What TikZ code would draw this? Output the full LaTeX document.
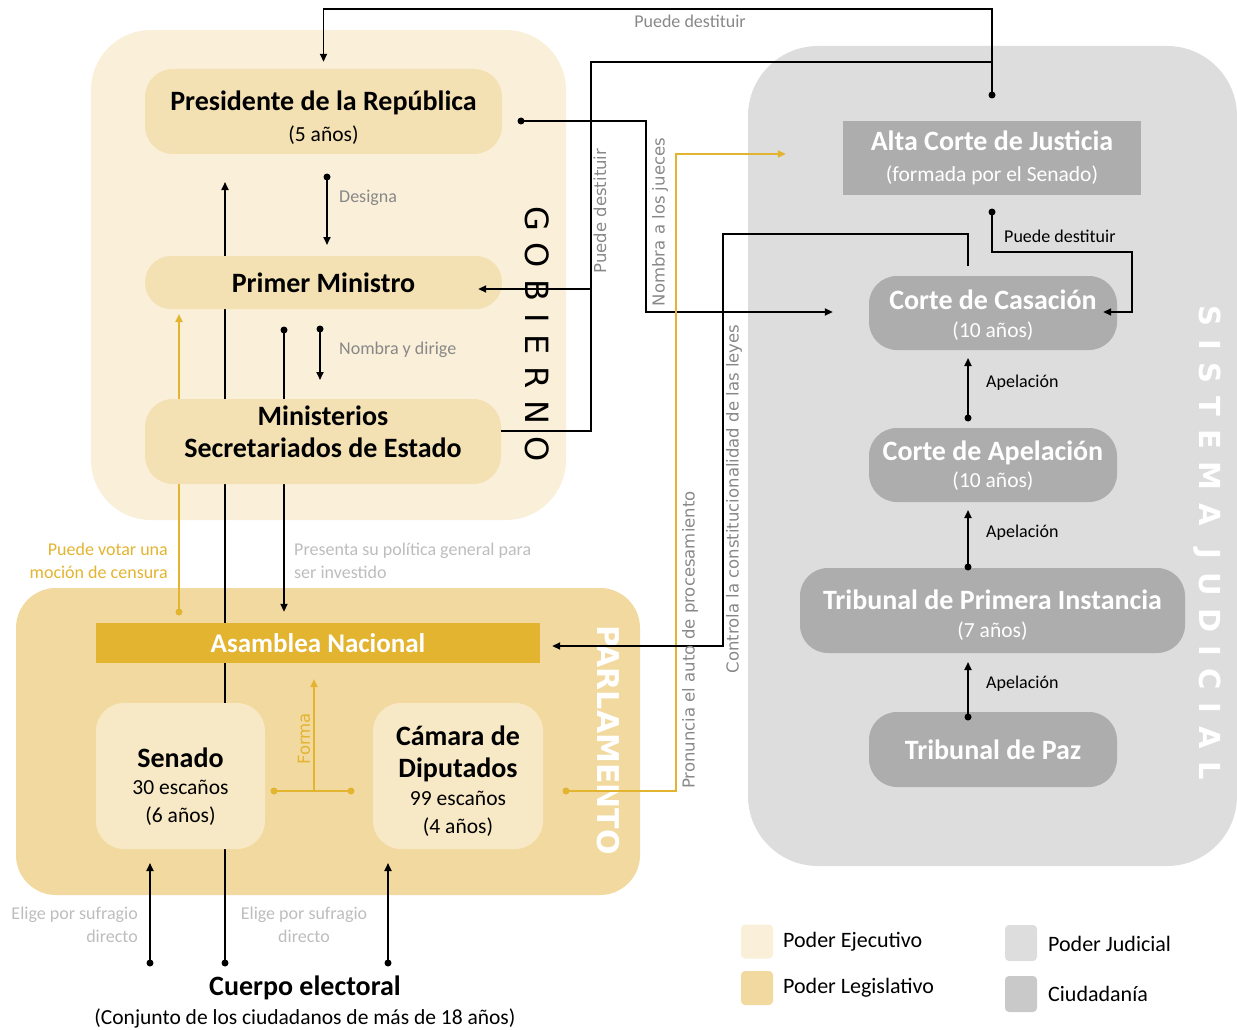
\documentclass[tikz,border=0pt]{standalone}
\usepackage{fontspec}
\setmainfont{Carlito}
\newfontfamily\dvf{DejaVu Sans}
\newfontfamily\dvsp{DejaVu Sans}[LetterSpace=37]
\newfontfamily\dvspb{DejaVu Sans}[LetterSpace=44]
\usetikzlibrary{arrows.meta,calc}
\definecolor{gobbg}{HTML}{FAEFD9}
\definecolor{gobin}{HTML}{F4E1B3}
\definecolor{parlbg}{HTML}{F2D9A0}
\definecolor{parlin}{HTML}{F7E8C6}
\definecolor{asamc}{HTML}{E3B430}
\definecolor{yel}{HTML}{E3B430}
\definecolor{judbg}{HTML}{DDDDDD}
\definecolor{judin}{HTML}{ADADAD}
\definecolor{ciud}{HTML}{C9C9C9}
\definecolor{labgrey}{HTML}{888888}
\definecolor{lightgrey}{HTML}{BDBDBD}
\pgfdeclarelayer{back}
\pgfdeclarelayer{mid}
\pgfsetlayers{back,mid,main}
\newcommand\ttl[1]{{\bfseries\fontsize{28}{32}\selectfont #1}}
\newcommand\subt[1]{{\fontsize{21.5}{26}\selectfont #1}}
\newcommand\mydot[2][black]{\fill[#1] (#2) circle[radius=3.5pt];}
\begin{document}
\begin{tikzpicture}[x=1pt,y=-1pt,
  >={Triangle[length=8pt,width=7pt]},
  ln/.style={line width=1.8pt, draw=black},
  yl/.style={line width=2.6pt, draw=yel},
  gin/.style={fill=gobin, rounded corners=28pt, inner sep=0pt, align=center, font={\fontsize{21}{31}\selectfont}},
  pin/.style={fill=parlin, rounded corners=28pt, inner sep=0pt},
  jin/.style={fill=judin, rounded corners=28pt, inner sep=0pt, align=center, text=white, font={\fontsize{21}{31}\selectfont}},
  ttx/.style={inner sep=0pt, align=center},
  lab/.style={font={\fontsize{18}{23}\selectfont}, inner sep=0pt},
  rlab/.style={font={\dvf\fontsize{16.5}{18}\selectfont}, text=labgrey, rotate=90, inner sep=0pt},
  legsq/.style={rounded corners=4pt, inner sep=0pt, minimum width=32pt, minimum height=34pt},
  legtx/.style={font={\fontsize{22}{26}\selectfont}, inner sep=0pt, anchor=west},
]
\useasboundingbox (0,0) rectangle (1237,1030);

% containers
\begin{pgfonlayer}{back}
\node[fill=gobbg, rounded corners=60pt, minimum width=475pt, minimum height=490pt, inner sep=0pt] (gob) at (328.5,275) {};
\node[fill=parlbg, rounded corners=40pt, minimum width=624pt, minimum height=307pt, inner sep=0pt] (parl) at (328,741.5) {};
\node[fill=judbg, rounded corners=70pt, minimum width=489pt, minimum height=820pt, inner sep=0pt] (jud) at (992.5,456) {};
\end{pgfonlayer}

\node[font={\dvsp\fontsize{32}{32}\selectfont}, rotate=-90, inner sep=0pt] (gobt) at (537,334) {GOBIERNO};
\node[font={\dvf\bfseries\fontsize{30}{30}\selectfont}, text=white, rotate=-90, inner sep=0pt] (parlt) at (608,740) {PARLAMENTO};
\node[font={\dvspb\bfseries\fontsize{29}{29}\selectfont}, text=white, rotate=-90, inner sep=0pt] (judt) at (1207,543) {SISTEMA JUDICIAL};

% government nodes
\node[gin, minimum width=357pt, minimum height=85pt] (pres) at (323.5,111.5) {};
\node[ttx, font={\fontsize{21}{31}\selectfont}] (presT) at (323.5,117.5) {\ttl{Presidente de la República}\\\subt{(5 años)}};
\node[gin, rounded corners=26pt, minimum width=357pt, minimum height=53pt] (pm) at (323.5,282.5) {\ttl{Primer Ministro}};
\node[gin, minimum width=356pt, minimum height=85pt] (mini) at (323,441.5) {};
\node[ttx, font={\fontsize{21}{31}\selectfont}] (miniT) at (323,432) {\ttl{Ministerios}\\[1pt]\ttl{Secretariados de Estado}};

% parliament nodes
\node[fill=asamc, text=white, inner sep=0pt, minimum width=444pt, minimum height=40pt, font={\bfseries\fontsize{27}{32}\selectfont}] (asam) at (318,643) {Asamblea Nacional};
\node[pin, minimum width=169pt, minimum height=146pt] (sen) at (180.5,776) {};
\node[ttx, font={\fontsize{21}{28}\selectfont}] (senT) at (180.5,786.5) {\ttl{Senado}\\[-1pt]\subt{30 escaños}\\\subt{(6 años)}};
\node[pin, minimum width=170pt, minimum height=146pt] (cam) at (458,776) {};
\node[ttx, font={\fontsize{21}{28}\selectfont}] (camT) at (458,781.5) {\ttl{Cámara de}\\[4pt]\ttl{Diputados}\\\subt{99 escaños}\\\subt{(4 años)}};

% judicial nodes
\node[jin, rounded corners=0pt, minimum width=298pt, minimum height=74pt] (alta) at (992,158) {\ttl{Alta Corte de Justicia}\\\subt{(formada por el Senado)}};
\node[jin, minimum width=248pt, minimum height=74pt] (casa) at (993,313) {};
\node[ttx, text=white, font={\fontsize{21}{28}\selectfont}] (casaT) at (993,315) {\ttl{Corte de Casación}\\\subt{(10 años)}};
\node[jin, minimum width=248pt, minimum height=74pt] (apel) at (993,465) {};
\node[ttx, text=white, font={\fontsize{21}{27}\selectfont}] (apelT) at (993,465.5) {\ttl{Corte de Apelación}\\\subt{(10 años)}};
\node[jin, minimum width=385pt, minimum height=85pt] (prim) at (992.5,610.5) {};
\node[ttx, text=white, font={\fontsize{21}{28}\selectfont}] (primT) at (992.5,615) {\ttl{Tribunal de Primera Instancia}\\\subt{(7 años)}};
\node[jin, minimum width=248pt, minimum height=75pt] (paz) at (993,749.5) {\ttl{Tribunal de Paz}};

% electorate
\node[inner sep=0pt, align=center, font={\fontsize{21}{29}\selectfont}] (cuerpo) at (305,1002) {\ttl{Cuerpo electoral}\\\subt{(Conjunto de los ciudadanos de más de 18 años)}};

% named end points
\coordinate (dAC) at (992,95);
\coordinate (dPres) at (521,121);
\coordinate (dCam) at (566,791);
\coordinate (cCas) at (968,266);
\coordinate (dAlta) at (992,212);
\coordinate (dApel) at (968,418);
\coordinate (dPrim) at (968,567);
\coordinate (dPaz) at (968,717);
\coordinate (dPres2) at (327,177);
\coordinate (dPM) at (320,329);
\coordinate (dPM2) at (284,330);
\coordinate (dCE1) at (150,963);
\coordinate (dCE2) at (225,963);
\coordinate (dCE3) at (388,963);
\coordinate (dAsam) at (179,612);
\coordinate (dSen) at (274,791);
\coordinate (dCam2) at (351,791);
\coordinate (forma) at (314,791);

% connectors behind boxes
\begin{pgfonlayer}{mid}
\draw[ln,->] (dPM2) -- ([xshift=-34pt,yshift=11pt]asam.north);
\draw[ln,->] (dCE2) -- (225,182);
\draw[yl,->] (dAsam) -- (179,314);
\end{pgfonlayer}
\mydot{dPM2}
\mydot{dCE2}
\mydot[yel]{dAsam}

% front connectors
\draw[ln,->] (dAC) -- (992,9) -| ([yshift=7pt]pres.north);
\mydot{dAC}
\draw[ln] (992,62) -- (591,62) -- (591,431) -- ([yshift=10.5pt]mini.east);
\draw[ln,->] (591,289) -- ([xshift=-24pt,yshift=-6.5pt]pm.east);
\draw[ln,->] (dPres) -- (646,121) -- (646,312) -- ([xshift=-36pt,yshift=1pt]casa.west);
\mydot{dPres}
\draw[yl,->] (dCam) -- (676,791) -- (676,154) -- ([xshift=-57pt,yshift=4pt]alta.west);
\mydot[yel]{dCam}
\draw[ln,->] (cCas) -- (968,234) -- (723,234) -- (723,646) -- ([xshift=12pt,yshift=-3pt]asam.east);
\draw[ln,->] (dAlta) -- (992,252) -- (1132,252) -- (1132,312) -- ([xshift=-14pt,yshift=1pt]casa.east);
\mydot{dAlta}
\draw[ln,->] (dApel) -- (968,358); \mydot{dApel}
\draw[ln,->] (dPrim) -- (968,510); \mydot{dPrim}
\draw[ln,->] (dPaz) -- (968,662); \mydot{dPaz}
\draw[ln,->] (dPres2) -- (327,245); \mydot{dPres2}
\draw[ln,->] (dPM) -- (320,380); \mydot{dPM}
\draw[yl] (dSen) -- (dCam2);
\draw[yl,->] (forma) -- (314,679);
\mydot[yel]{dSen}
\mydot[yel]{dCam2}
\draw[ln,->] (dCE1) -- (150,863); \mydot{dCE1}
\draw[ln,->] (dCE3) -- (388,863); \mydot{dCE3}

% labels
\node[lab, text=labgrey] (l1) at (690,21) {Puede destituir};
\node[rlab] (l2) at (600,211) {Puede destituir};
\node[rlab] (l3) at (660,222) {Nombra a los jueces};
\node[rlab] (l4) at (690,640) {Pronuncia el auto de procesamiento};
\node[rlab] (l5) at (734,499) {Controla la constitucionalidad de las leyes};
\node[rlab, text=yel] (l6) at (304,739) {Forma};
\node[lab, text=labgrey, anchor=west] (l7) at (339,198) {Designa};
\node[lab, text=labgrey, anchor=west] (l8) at (339,350) {Nombra y dirige};
\node[lab, text=lightgrey, anchor=north west, align=left] (l9) at (294,543) {Presenta su política general para\\ser investido};
\node[lab, text=yel, anchor=north east, align=right] (l10) at (168,543) {Puede votar una\\moción de censura};
\node[lab, text=lightgrey, anchor=north east, align=right] (l11) at (138,907) {Elige por sufragio\\directo};
\node[lab, text=lightgrey, anchor=north, align=center] (l12) at (304,907) {Elige por sufragio\\directo};
\node[lab, anchor=west] (l13) at (986,383) {Apelación};
\node[lab, anchor=west] (l14) at (986,533) {Apelación};
\node[lab, anchor=west] (l15) at (986,684) {Apelación};
\node[lab, anchor=west] (l16) at (1004,236) {Puede destituir};

% legend
\node[legsq, fill=gobbg] (lg1) at (757,941.5) {};
\node[legsq, fill=parlbg] (lg2) at (757,988) {};
\node[legsq, fill=judbg, minimum height=36pt] (lg3) at (1021,943) {};
\node[legsq, fill=ciud, minimum height=36pt] (lg4) at (1021,994) {};
\node[legtx] (lt1) at (783,942) {Poder Ejecutivo};
\node[legtx] (lt2) at (783,988) {Poder Legislativo};
\node[legtx] (lt3) at (1048,944) {Poder Judicial};
\node[legtx] (lt4) at (1048,994) {Ciudadanía};
\end{tikzpicture}
\end{document}
